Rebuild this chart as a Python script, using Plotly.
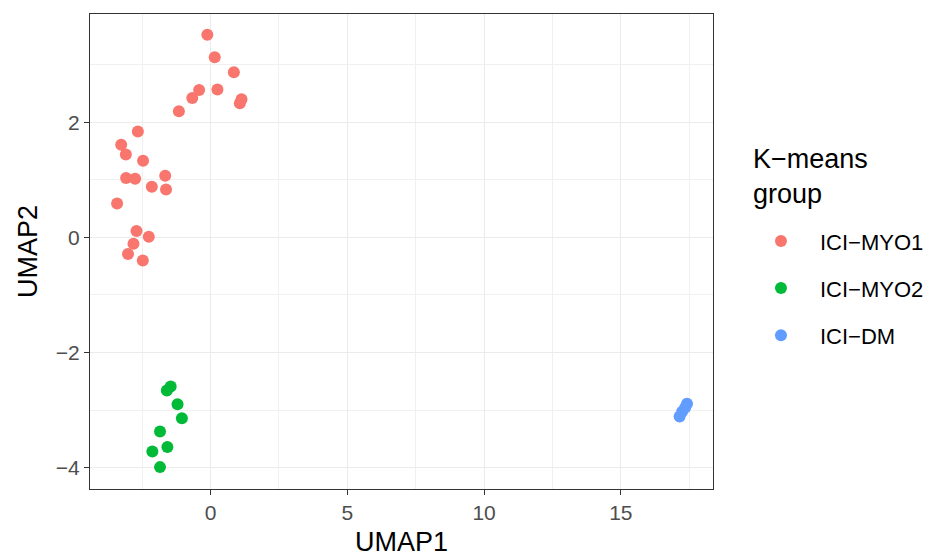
import plotly.graph_objects as go

# UMAP coordinates by K-means group
myo1_x = [-0.12, 0.15, 0.85, -0.42, -0.67, 0.25, 1.13, 1.07, -1.16, -2.66, -3.27, -3.10,
          -2.47, -3.09, -2.76, -1.66, -2.15, -1.63, -3.42, -2.71, -2.26, -2.82, -3.02, -2.48]
myo1_y = [3.52, 3.13, 2.87, 2.56, 2.42, 2.57, 2.40, 2.33, 2.19, 1.84, 1.61, 1.44,
          1.33, 1.03, 1.02, 1.07, 0.88, 0.83, 0.59, 0.11, 0.01, -0.11, -0.29, -0.40]
myo2_x = [-1.60, -1.46, -1.21, -1.05, -1.85, -1.58, -2.13, -1.85]
myo2_y = [-2.66, -2.59, -2.90, -3.14, -3.37, -3.64, -3.72, -3.99]
dm_x = [17.15, 17.24, 17.35, 17.42]
dm_y = [-3.11, -3.03, -2.96, -2.89]

groups = ["ICI−MYO1", "ICI−MYO2", "ICI−DM"]
colors = ["#F8766D", "#00BA38", "#619CFF"]
xs = [myo1_x, myo2_x, dm_x]
ys = [myo1_y, myo2_y, dm_y]

FONT = "Liberation Sans, Arial, sans-serif"

fig = go.Figure()
for name, col, x, y in zip(groups, colors, xs, ys):
    fig.add_trace(go.Scatter(
        x=x, y=y, mode="markers", name=name, legendgroup=name,
        marker=dict(color=col, size=12, line=dict(width=0)),
    ))

axis_common = dict(
    showline=True, mirror=True, linecolor="#333333", linewidth=1.2,
    ticks="outside", ticklen=5, tickcolor="#333333", tickwidth=1.2,
    showgrid=True, gridcolor="#EBEBEB", gridwidth=1.4,
    zeroline=False,
    tickfont=dict(family=FONT, size=21, color="#4D4D4D"),
    title_font=dict(family=FONT, size=27, color="black"),
)

fig.update_xaxes(
    range=[-4.41, 18.37], tickvals=[0, 5, 10, 15],
    minor=dict(tickvals=[-2.5, 2.5, 7.5, 12.5, 17.5], showgrid=True,
               gridcolor="#F0F0F0", gridwidth=0.8, ticks=""),
    title=dict(text="UMAP1", standoff=8), **axis_common,
)
fig.update_yaxes(
    range=[-4.37, 3.88], tickvals=[-4, -2, 0, 2],
    minor=dict(tickvals=[-3, -1, 1, 3], showgrid=True,
               gridcolor="#F0F0F0", gridwidth=0.8, ticks=""),
    title=dict(text="UMAP2", standoff=10), **axis_common,
)

# Legend title drawn as its own text block above the legend keys
fig.add_annotation(
    text="K−means<br>group", xref="paper", yref="paper",
    x=1.061, y=0.73, xanchor="left", yanchor="top", align="left",
    showarrow=False, font=dict(family=FONT, size=27, color="black"),
)

fig.update_layout(
    width=933, height=558,
    margin=dict(l=90, r=220, t=14, b=69, autoexpand=False),
    plot_bgcolor="white", paper_bgcolor="white",
    font=dict(family=FONT, color="black"),
    legend=dict(
        font=dict(size=22, color="black"),
        x=1.0465, xanchor="left", y=0.566, yanchor="top",
        tracegroupgap=15.5, itemsizing="constant", itemwidth=68,
        bgcolor="rgba(0,0,0,0)",
    ),
)

fig.write_html("out.html")
